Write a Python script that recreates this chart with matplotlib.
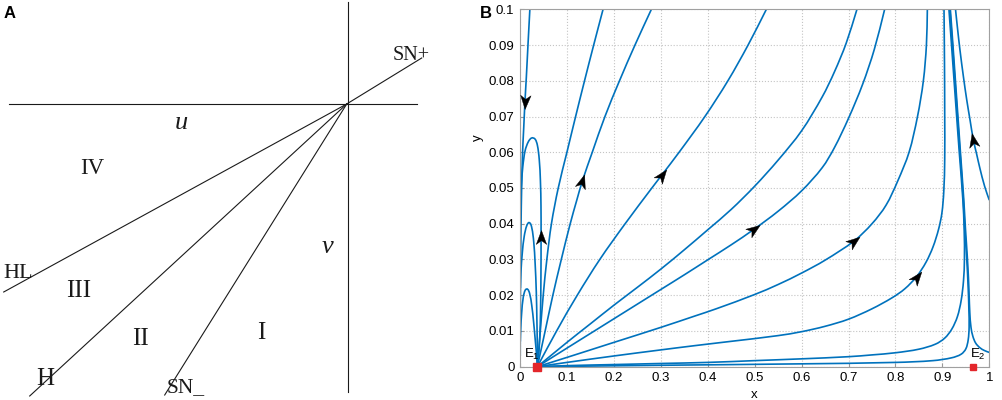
import numpy as np
import matplotlib
matplotlib.use("Agg")
import matplotlib.pyplot as plt
from matplotlib.path import Path
from matplotlib.patches import PathPatch
from matplotlib.markers import MarkerStyle
from matplotlib.transforms import Affine2D

plt.rcParams['font.family'] = ['Liberation Sans', 'DejaVu Sans']
plt.rcParams['mathtext.fontset'] = 'custom'
plt.rcParams['mathtext.rm'] = 'Liberation Sans'

# ---------------- panel A : bifurcation sketch in the (u, v) plane ----------------
u_axis = [(-338, 0), (70, 0)]
v_axis = [(1.5, 102), (1.5, -288)]
# far end of every bifurcation ray, the other end is the origin
ray_ends = [(75, 46), (-343, -188), (-317, -292), (-182, -291)]
# (text, x, y, size, italic)
labels_a = [("SN+", 64, 49, 14.5, False),
            ("u", -165, -19, 19, True),
            ("IV", -254, -65, 16.5, False),
            ("v", -19, -143, 19, True),
            ("HL", -329, -170, 16, False),
            ("III", -268, -187, 18, False),
            ("II", -206, -235, 18, False),
            ("I", -85, -229, 18, False),
            ("H", -301, -275, 18, False),
            ("SN_", -161, -284, 15.5, False)]

# ---------------- panel B : phase portrait, trajectories ----------------
E1 = 0.037
E2 = 0.965

top_left = [(0.021, 0.1), (0.017, 0.09), (0.0135, 0.081), (0.0105, 0.074), (0.008, 0.067),
            (0.0055, 0.06), (0.0035, 0.05), (0.0022, 0.04), (0.0014, 0.03), (0.0009, 0.02),
            (0.0006, 0.01), (0.0005, 0.003)]
arc_high = [(0.037, 0), (0.0395, 0.003), (0.042, 0.008), (0.0437, 0.015), (0.0446, 0.025),
            (0.0449, 0.0364), (0.0447, 0.045), (0.0435, 0.052), (0.041, 0.058), (0.037, 0.062),
            (0.032, 0.0637), (0.025, 0.064), (0.018, 0.063), (0.011, 0.0605), (0.006, 0.056),
            (0.0025, 0.05), (0.001, 0.044), (0.0005, 0.04)]
arc_mid = [(0.037, 0), (0.0368, 0.006), (0.036, 0.013), (0.0347, 0.021), (0.0322, 0.029),
           (0.0292, 0.035), (0.0252, 0.0388), (0.02, 0.0403), (0.0145, 0.0395), (0.009, 0.0365),
           (0.005, 0.032), (0.002, 0.0265), (0.0007, 0.022)]
arc_low = [(0.037, 0), (0.0355, 0.003), (0.0328, 0.007), (0.029, 0.0125), (0.025, 0.0172),
           (0.0205, 0.0205), (0.016, 0.0217), (0.0115, 0.0215), (0.007, 0.0195), (0.0035, 0.015),
           (0.0015, 0.0105), (0.0006, 0.007)]
fan1 = [(0.037, 0), (0.0433, 0.01), (0.0495, 0.02), (0.0572, 0.03), (0.067, 0.04), (0.0815, 0.05),
        (0.1, 0.06), (0.1185, 0.07), (0.1375, 0.08), (0.157, 0.09), (0.177, 0.1)]
fan2 = [(0.037, 0), (0.0536, 0.01), (0.070, 0.02), (0.088, 0.03), (0.107, 0.04), (0.121, 0.0466),
        (0.133, 0.052), (0.154, 0.06), (0.181, 0.07), (0.212, 0.08), (0.245, 0.09), (0.28, 0.1)]
fan3 = [(0.037, 0), (0.078, 0.01), (0.122, 0.02), (0.17, 0.03), (0.224, 0.04), (0.281, 0.05),
        (0.302, 0.0536), (0.339, 0.06), (0.394, 0.07), (0.443, 0.08), (0.486, 0.09), (0.525, 0.1)]
fan4 = [(0.037, 0), (0.1, 0.0068), (0.15, 0.012), (0.2, 0.0172), (0.25, 0.0222), (0.3, 0.0273),
        (0.35, 0.0327), (0.4, 0.0383), (0.45, 0.044), (0.5, 0.0505), (0.55, 0.0578), (0.6, 0.066),
        (0.644, 0.0755), (0.67, 0.0825), (0.695, 0.0905), (0.718, 0.1)]
fan5 = [(0.037, 0), (0.1, 0.0052), (0.15, 0.0093), (0.2, 0.0134), (0.25, 0.0175), (0.3, 0.0216),
        (0.35, 0.0257), (0.4, 0.0299), (0.45, 0.0341), (0.498, 0.0384), (0.55, 0.0435),
        (0.6, 0.0492), (0.644, 0.0557), (0.67, 0.0613), (0.7, 0.0695), (0.73, 0.079),
        (0.755, 0.0888), (0.777, 0.1)]
fan6 = [(0.037, 0), (0.1, 0.0026), (0.2, 0.0068), (0.3, 0.011), (0.373, 0.0142), (0.418, 0.0162),
        (0.5, 0.0202), (0.55, 0.023), (0.6, 0.0262), (0.65, 0.0298), (0.712, 0.0352), (0.75, 0.04),
        (0.78, 0.0452), (0.805, 0.052), (0.829, 0.06), (0.847, 0.07), (0.8595, 0.08),
        (0.866, 0.09), (0.868, 0.1)]
fan7 = [(0.037, 0), (0.1, 0.0012), (0.2, 0.003), (0.3, 0.0047), (0.373, 0.0059), (0.45, 0.0071),
        (0.55, 0.0087), (0.6, 0.0098), (0.65, 0.0113), (0.7, 0.0133), (0.75, 0.0162),
        (0.793, 0.0193), (0.82, 0.0218), (0.845, 0.0252), (0.865, 0.0292), (0.88, 0.0335),
        (0.892, 0.0385), (0.899, 0.043), (0.903, 0.049), (0.905, 0.058), (0.905, 0.07),
        (0.9045, 0.085), (0.9035, 0.1)]
fan8 = [(0.037, 0), (0.1, 0.0003), (0.2, 0.0006), (0.3, 0.0009), (0.4, 0.0012), (0.5, 0.0017),
        (0.6, 0.0022), (0.7, 0.0028), (0.75, 0.0033), (0.8, 0.0039), (0.85, 0.0049),
        (0.885, 0.0063), (0.905, 0.008), (0.92, 0.0105), (0.932, 0.014), (0.94, 0.0185),
        (0.945, 0.024), (0.947, 0.03), (0.9465, 0.038), (0.9435, 0.047), (0.936, 0.06),
        (0.9277, 0.075), (0.9195, 0.09), (0.914, 0.1)]
fan9 = [(0.037, 0), (0.3, 0.0004), (0.6, 0.0008), (0.8, 0.0012), (0.88, 0.0017), (0.92, 0.0025),
        (0.94, 0.0035), (0.95, 0.005), (0.955, 0.0075), (0.957, 0.011), (0.9565, 0.016),
        (0.955, 0.022), (0.952, 0.03), (0.948, 0.038), (0.9445, 0.047), (0.9375, 0.06),
        (0.9295, 0.075), (0.9215, 0.09), (0.916, 0.1)]
right_low = [(1.0, 0.004), (0.99, 0.0045), (0.98, 0.0053), (0.971, 0.0066), (0.965, 0.0085),
             (0.961, 0.011), (0.9585, 0.015), (0.957, 0.02), (0.9555, 0.025), (0.953, 0.031),
             (0.949, 0.039), (0.9455, 0.047), (0.9385, 0.06), (0.9305, 0.075), (0.9225, 0.09),
             (0.917, 0.1)]
right_high = [(1.0, 0.0466), (0.99, 0.0505), (0.98, 0.0555), (0.973, 0.0595), (0.966, 0.0635),
              (0.959, 0.069), (0.952, 0.0746), (0.945, 0.081), (0.9375, 0.0886), (0.932, 0.095),
              (0.928, 0.1)]

curves = [top_left, arc_high, arc_mid, arc_low, fan1, fan2, fan3, fan4, fan5, fan6, fan7,
          fan8, fan9, right_low, right_high]
# arrow heads: (curve, x of the vertex that carries the arrow)
arrows = [(top_left, 0.0105), (arc_high, 0.0449), (fan2, 0.133), (fan3, 0.302),
          (fan5, 0.498), (fan6, 0.712), (fan7, 0.845), (right_high, 0.966)]

x_ticks = np.round(np.arange(0, 1.01, 0.1), 2)
y_ticks = np.round(np.arange(0, 0.101, 0.01), 3)
x_labels = ["0", "0.1", "0.2", "0.3", "0.4", "0.5", "0.6", "0.7", "0.8", "0.9", "1"]
y_labels = ["0", "0.01", "0.02", "0.03", "0.04", "0.05", "0.06", "0.07", "0.08", "0.09", "0.1"]


def unit_tangents(P):
    n = len(P)
    T = np.zeros_like(P)
    for i in range(n):
        d = P[min(i + 1, n - 1)] - P[max(i - 1, 0)]
        T[i] = d / np.linalg.norm(d)
    return T


def smooth_path(ax, pts):
    # cubic pieces through the read points, tangents taken in screen space
    P = ax.transData.transform(np.array(pts, dtype=float))
    T = unit_tangents(P)
    verts, codes = [P[0]], [Path.MOVETO]
    for i in range(len(P) - 1):
        L = np.linalg.norm(P[i + 1] - P[i])
        verts += [P[i] + T[i] * L / 3, P[i + 1] - T[i + 1] * L / 3, P[i + 1]]
        codes += [Path.CURVE4] * 3
    return Path(ax.transData.inverted().transform(np.array(verts)), codes)


fig = plt.figure(figsize=(10.03, 4.0), dpi=100)

# ---- A ----
axA = fig.add_axes([0, 0, 440 / 1003, 1])
axA.set_xlim(-346.7, 93.3)
axA.set_ylim(-296, 104)
axA.axis("off")
line_kw = dict(color="#1a1a1a", lw=0.8)
axA.plot(*zip(*u_axis), **line_kw)
axA.plot(*zip(*v_axis), **line_kw)
for end in ray_ends:
    axA.plot([0, end[0]], [0, end[1]], **line_kw)
for txt, x, y, size, ital in labels_a:
    axA.text(x, y, txt, fontsize=size, family="Liberation Serif",
             style="italic" if ital else "normal", ha="center", va="center", color="#1a1a1a")
fig.text(4 / 1003, 1 - 13 / 400, "A", fontsize=12, fontweight="bold", va="center", ha="left")

# ---- B ----
axB = fig.add_axes([520 / 1003, 33.3 / 400, 469.3 / 1003, 357.4 / 400])
axB.set_xlim(0, 1)
axB.set_ylim(0, 0.1)
axB.set_xticks(x_ticks)
axB.set_xticklabels(x_labels)
axB.set_yticks(y_ticks)
axB.set_yticklabels(y_labels)
axB.tick_params(direction="in", length=3, color="#999999", labelsize=9.5, pad=4)
axB.grid(True, ls=":", color="#c4c4c4", lw=0.8)
axB.set_axisbelow(True)
for sp in axB.spines.values():
    sp.set_color("#a0a0a0")
    sp.set_linewidth(0.8)

fig.canvas.draw()
blue = "#0072BD"
for c in curves:
    axB.add_patch(PathPatch(smooth_path(axB, c), fill=False, edgecolor=blue, lw=1.2,
                            capstyle="butt", zorder=2))

head = Path([(1, 0), (-1, 0.75), (-0.45, 0), (-1, -0.75), (1, 0)],
            [Path.MOVETO, Path.LINETO, Path.LINETO, Path.LINETO, Path.CLOSEPOLY])
for c, xa in arrows:
    pts = np.array(c)
    i = int(np.argmin(np.abs(pts[:, 0] - xa)))
    tang = unit_tangents(axB.transData.transform(pts))[i]
    ang = np.degrees(np.arctan2(tang[1], tang[0]))
    m = MarkerStyle(head, transform=Affine2D().rotate_deg(ang))
    axB.plot(pts[i, 0], pts[i, 1], marker=m, ms=10, color="black", mec="black", mew=0.3, zorder=4)

axB.plot([E1], [0], "s", color="#E3262B", ms=6, clip_on=False, zorder=5)
axB.plot([E2], [0], "s", color="#E3262B", ms=5, clip_on=False, zorder=5)
axB.text(0.008, 0.0014, "E$_1$", fontsize=9.5, ha="left", va="bottom", zorder=3)
axB.text(0.958, 0.0012, "E$_2$", fontsize=9.5, ha="left", va="bottom", zorder=3)

axB.text(0.498, -0.078, "x", transform=axB.transAxes, ha="center", va="center", fontsize=9.5)
axB.text(-0.089, 0.64, "y", transform=axB.transAxes, ha="center", va="center",
         rotation=90, fontsize=9.5)
fig.text(480 / 1003, 1 - 13 / 400, "B", fontsize=12, fontweight="bold", va="center", ha="left")

fig.savefig("out.png", dpi=100, facecolor="white")
